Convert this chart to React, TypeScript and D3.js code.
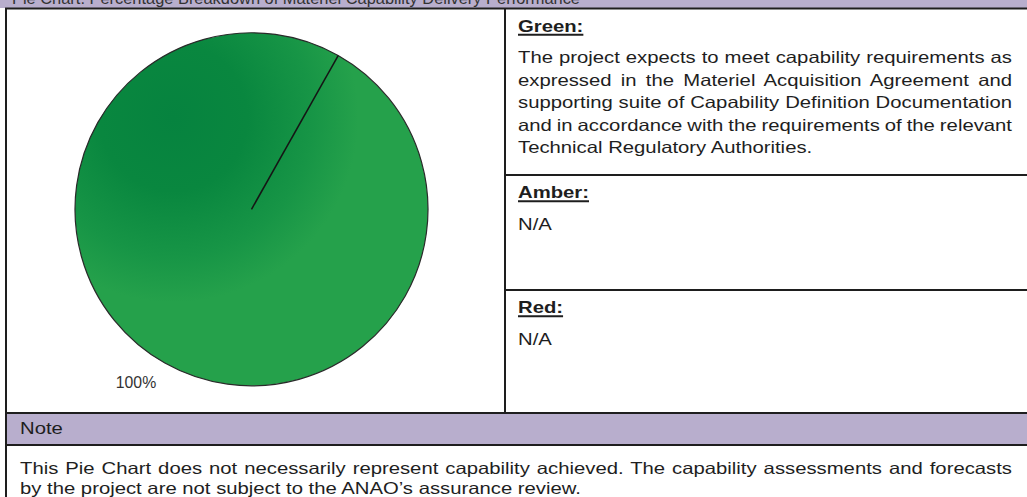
import React, { useEffect, useRef } from "react";
import * as d3 from "d3";

// ---- data ----
const categories = ["Green", "Amber", "Red"];
const values = [100, 0, 0];
const sliceLabels = ["100%", "", ""];
const headerTitle =
  "Pie Chart: Percentage Breakdown of Materiel Capability Delivery Performance";
const sectionLabels = ["Green:", "Amber:", "Red:"];
const greenLines = [
  "The project expects to meet capability requirements as",
  "expressed in the Materiel Acquisition Agreement and",
  "supporting suite of Capability Definition Documentation",
  "and in accordance with the requirements of the relevant",
  "Technical Regulatory Authorities.",
];
const amberLines = ["N/A"];
const redLines = ["N/A"];
const noteTitle = "Note";
const noteLines = [
  "This Pie Chart does not necessarily represent capability achieved. The capability assessments and forecasts",
  "by the project are not subject to the ANAO\u2019s assurance review.",
];

const W = 1027;
const H = 497;
const FONT = "'Liberation Sans', Arial, Helvetica, sans-serif";
const PURPLE = "#b8aecd";
const INK = "#1e1e1e";
const FS = 16.3; // font size (vertical)
const SX = 1.245; // horizontal stretch of the document text

export default function App() {
  const ref = useRef<SVGSVGElement | null>(null);

  useEffect(() => {
    const svg = d3.select(ref.current);
    svg.selectAll("*").remove();

    const defs = svg.append("defs");
    const grad = defs
      .append("radialGradient")
      .attr("id", "pieGrad")
      .attr("gradientUnits", "userSpaceOnUse")
      .attr("cx", -78)
      .attr("cy", -92)
      .attr("r", 185);
    [
      [0, "#06833f"],
      [0.4, "#09873f"],
      [0.75, "#179546"],
      [1, "#25a14b"],
    ].forEach(([o, c]) =>
      grad.append("stop").attr("offset", o as number).attr("stop-color", c as string)
    );

    // stretched text helper
    const stext = (s: string, x: number, y: number, opts: { bold?: boolean; fill?: string } = {}) =>
      svg
        .append("text")
        .attr("x", 0)
        .attr("y", 0)
        .attr("transform", `translate(${x},${y}) scale(${SX},1)`)
        .attr("font-family", FONT)
        .attr("font-size", FS)
        .attr("font-weight", opts.bold ? "bold" : "normal")
        .attr("fill", opts.fill || INK)
        .text(s);

    // header band
    svg.append("rect").attr("x", 0).attr("y", 0).attr("width", W).attr("height", 8).attr("fill", PURPLE);
    svg
      .append("text")
      .attr("x", 12)
      .attr("y", 4)
      .attr("font-family", FONT)
      .attr("font-size", FS)
      .attr("textLength", 568)
      .attr("lengthAdjust", "spacingAndGlyphs")
      .attr("fill", "#333")
      .text(headerTitle);

    // note band
    svg.append("rect").attr("x", 6).attr("y", 413).attr("width", W).attr("height", 32).attr("fill", PURPLE);

    // grid lines
    const line = (x1: number, y1: number, x2: number, y2: number, w = 2) =>
      svg
        .append("line")
        .attr("x1", x1)
        .attr("y1", y1)
        .attr("x2", x2)
        .attr("y2", y2)
        .attr("stroke", INK)
        .attr("stroke-width", w);
    line(5, 8.5, W, 8.5);
    line(6, 8, 6, H);
    line(505, 8, 505, 413);
    line(505, 175, W, 175);
    line(505, 290, W, 290);
    line(5, 413, W, 413);
    line(5, 445, W, 445);

    // ---- pie ----
    const cx = 251.5;
    const cy = 209.3;
    const r = 176.5;
    const start = (29.4 * Math.PI) / 180;
    const pie = d3
      .pie<number>()
      .sort(null)
      .value((d) => d)
      .startAngle(start)
      .endAngle(start + 2 * Math.PI);
    const arcs = pie(values);
    const arc = d3.arc<d3.PieArcDatum<number>>().innerRadius(0).outerRadius(r);
    const g = svg.append("g").attr("transform", `translate(${cx},${cy})`);
    const colors = ["url(#pieGrad)", "#f0a020", "#d02020"];
    arcs.forEach((a, i) => {
      if (a.value <= 0) return;
      g.append("path")
        .attr("d", arc(a) as string)
        .attr("fill", colors[i])
        .attr("stroke", "#2a2a2a")
        .attr("stroke-width", 1.2)
        .attr("data-cat", categories[i]);
      const [bx, by] = d3.pointRadial(a.startAngle, r);
      g.append("line")
        .attr("x1", 0)
        .attr("y1", 0)
        .attr("x2", bx)
        .attr("y2", by)
        .attr("stroke", "#151515")
        .attr("stroke-width", 1.5);
      const mid = (a.startAngle + a.endAngle) / 2;
      const [lx, ly] = d3.pointRadial(mid, r * 1.1);
      g.append("text")
        .attr("x", lx)
        .attr("y", ly)
        .attr("dy", "0.6em")
        .attr("text-anchor", "end")
        .attr("font-family", FONT)
        .attr("font-size", 15.8)
        .attr("fill", "#333")
        .text(sliceLabels[i]);
    });

    // ---- paragraphs ----
    const addPara = (lines: string[], x: number, y0: number, lh: number, right: number) => {
      lines.forEach((ln, i) => {
        const t = stext(ln, x, y0 + i * lh);
        if (i < lines.length - 1) {
          const node = t.node() as SVGTextElement;
          const nat = node.getComputedTextLength();
          const spaces = (ln.match(/ /g) || []).length;
          if (spaces > 0) t.attr("word-spacing", ((right - x) / SX - nat) / spaces);
        }
      });
    };
    const addLabel = (s: string, x: number, y: number) => {
      const t = stext(s, x, y, { bold: true });
      const w = (t.node() as SVGTextElement).getComputedTextLength() * SX;
      svg
        .append("line")
        .attr("x1", x)
        .attr("x2", x + w)
        .attr("y1", y + 3.2)
        .attr("y2", y + 3.2)
        .attr("stroke", INK)
        .attr("stroke-width", 2);
    };

    const textX = 518;
    const rightEdge = 1012;
    const tops = [8.5, 175, 290];
    const bodies = [greenLines, amberLines, redLines];
    sectionLabels.forEach((lab, i) => {
      addLabel(lab, textX, tops[i] + 23);
      addPara(bodies[i], textX, tops[i] + 54.5, 22.6, rightEdge);
    });

    // ---- note ----
    stext(noteTitle, 20, 433.5);
    addPara(noteLines, 20, 473.5, 20.8, rightEdge);
  }, []);

  return (
    <svg
      ref={ref}
      width={W}
      height={H}
      style={{ position: "absolute", left: 0, top: 0, background: "#fff" }}
    />
  );
}
